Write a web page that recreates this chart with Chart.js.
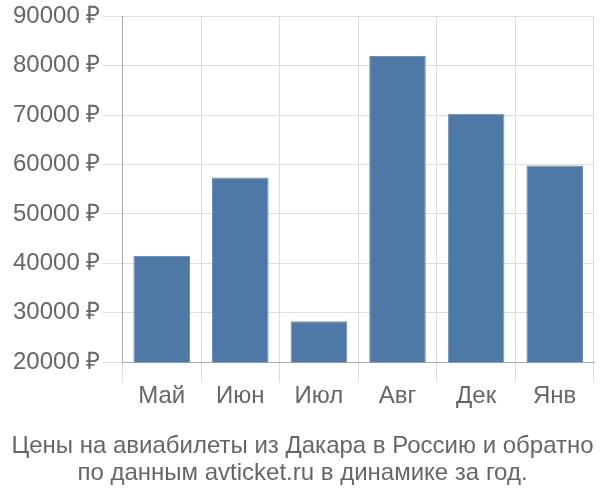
<!DOCTYPE html>
<html>
<head>
<meta charset="utf-8">
<script src="https://cdn.jsdelivr.net/npm/chart.js@4/dist/chart.umd.min.js"></script>
<style>
html,body{margin:0;padding:0;background:#fff;}
#wrap{width:600px;height:500px;}
</style>
</head>
<body>
<div id="wrap"><canvas id="c"></canvas></div>
<script>
const categories = ['Май', 'Июн', 'Июл', 'Авг', 'Дек', 'Янв'];
const prices = [41500, 57400, 28300, 82000, 70300, 59800];
const yTicks = [20000, 30000, 40000, 50000, 60000, 70000, 80000, 90000];
const titleLines = ['Цены на авиабилеты из Дакара в Россию и обратно', 'по данным avticket.ru в динамике за год.'];

const font = "'Liberation Sans', Arial, sans-serif";
new Chart(document.getElementById('c'), {
  type: 'bar',
  data: {
    labels: categories,
    datasets: [{
      data: prices,
      backgroundColor: '#4e79a7',
      borderColor: '#6a8fba',
      borderWidth: 1
    }]
  },
  options: {
    responsive: true,
    maintainAspectRatio: false,
    animation: false,
    layout: { padding: { top: -1.5, right: 6, left: 11, bottom: 13 } },
    plugins: {
      legend: { display: false },
      tooltip: { enabled: false },
      title: {
        display: true,
        position: 'bottom',
        text: titleLines,
        color: '#666',
        font: { family: font, size: 24, weight: 'normal', lineHeight: 1.125 },
        padding: { top: 22, bottom: 0 }
      }
    },
    scales: {
      x: {
        grid: { color: '#dddddd', tickLength: 20, offset: true },
        border: { color: '#aaaaaa' },
        ticks: { color: '#666', font: { family: font, size: 24 }, padding: 0 }
      },
      y: {
        min: 20000,
        max: 90000,
        afterBuildTicks: (s) => { s.ticks = yTicks.map(v => ({ value: v })); },
        grid: { color: '#dddddd', tickLength: 20 },
        border: { color: '#aaaaaa' },
        ticks: { color: '#666', font: { family: font, size: 24 }, padding: 2,
          callback: (v) => v + ' ₽' }
      }
    }
  }
});
</script>
</body>
</html>
